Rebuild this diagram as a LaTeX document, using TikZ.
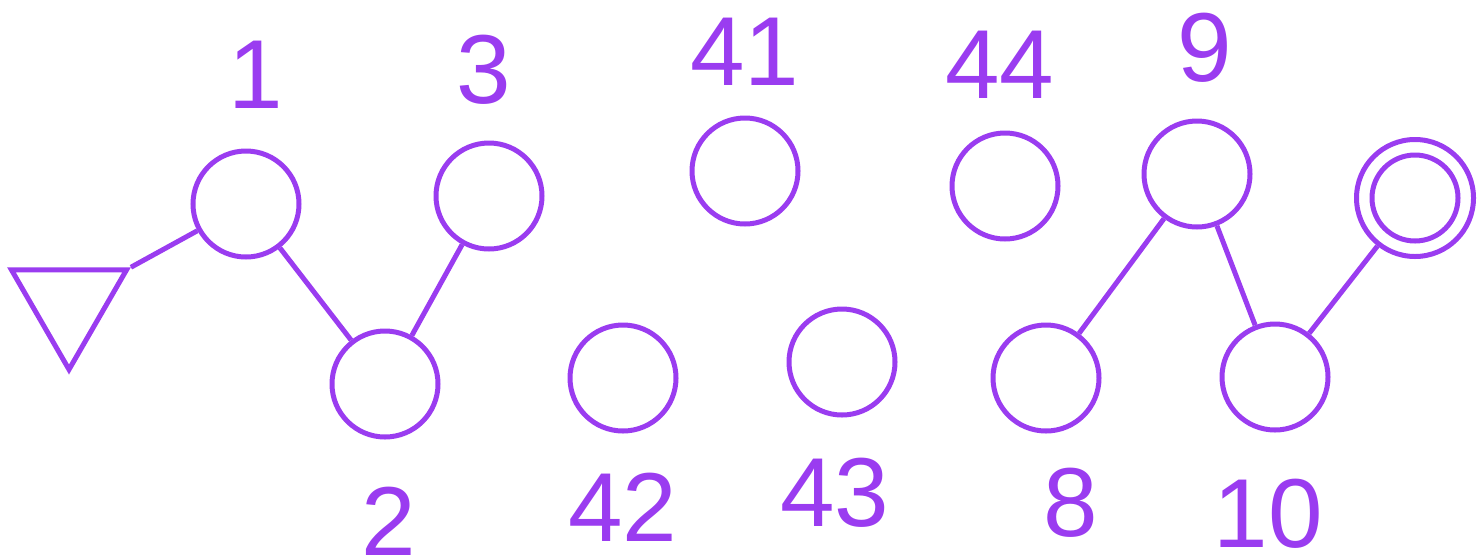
\documentclass[tikz,border=0pt]{standalone}
\usepackage{fontspec}
\setmainfont{Liberation Sans}
\usetikzlibrary{shapes.geometric}
\definecolor{violet}{HTML}{9A3CF0}

\begin{document}
\begin{tikzpicture}[x=1pt, y=-1pt, line width=5pt, draw=violet,
    state/.style={circle, draw=violet, minimum size=106pt, inner sep=0},
    lab/.style={font=\fontsize{98}{98}\selectfont, text=violet, inner sep=0}]
    \useasboundingbox (0, 0) rectangle (1477, 558);

    % start marker
    \node[regular polygon, regular polygon sides=3, shape border rotate=180, draw=violet, minimum size=133pt, inner sep=0] (start) at (69, 303) {};

    % states
    \node[state] (q1) at (246, 204) {};
    \node[state] (q2) at (385, 384) {};
    \node[state] (q3) at (489, 196) {};
    \node[state] (q41) at (745, 171) {};
    \node[state] (q42) at (623, 378) {};
    \node[state] (q43) at (842, 362) {};
    \node[state] (q44) at (1005, 186) {};
    \node[state] (q8) at (1046, 378) {};
    \node[state] (q9) at (1197, 174) {};
    \node[state] (q10) at (1275, 377) {};
    \node[state, minimum size=117pt] (fin) at (1415, 198) {};
    \node[state, minimum size=86pt] (finin) at (fin) {};

    % labels
    \node[lab] (l1) at (256, 75) {1};
    \node[lab] (l2) at (389, 521) {2};
    \node[lab] (l3) at (484, 70) {3};
    \node[lab] (l41) at (745, 52) {41};
    \node[lab] (l42) at (623, 507) {42};
    \node[lab] (l43) at (835, 493) {43};
    \node[lab] (l44) at (1000, 65) {44};
    \node[lab] (l8) at (1071, 503) {8};
    \node[lab] (l9) at (1205, 48) {9};
    \node[lab] (l10) at (1268, 514) {10};

    % edges
    \draw[violet] (start.corner 2) -- (q1);
    \draw[violet] (q1) -- (q2);
    \draw[violet] (q2) -- (q3);
    \draw[violet] (q8) -- (q9);
    \draw[violet] (q9) -- (q10);
    \draw[violet] (q10) -- (fin);
\end{tikzpicture}
\end{document}
